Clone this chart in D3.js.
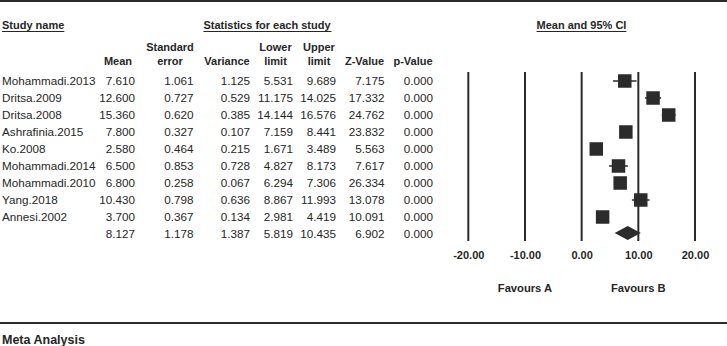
<!DOCTYPE html>
<html><head><meta charset="utf-8">
<script src="https://cdn.jsdelivr.net/npm/d3@7"></script>
<style>html,body{margin:0;padding:0;background:#fff;}svg{display:block;font-family:"Liberation Sans",Arial,sans-serif;}</style>
</head><body>
<svg id="c" width="727" height="346"></svg>
<script>
const studies = ["Mohammadi.2013","Dritsa.2009","Dritsa.2008","Ashrafinia.2015","Ko.2008","Mohammadi.2014","Mohammadi.2010","Yang.2018","Annesi.2002",""];
const means = [7.610,12.600,15.360,7.800,2.580,6.500,6.800,10.430,3.700,8.127];
const stdErrors = [1.061,0.727,0.620,0.327,0.464,0.853,0.258,0.798,0.367,1.178];
const variances = [1.125,0.529,0.385,0.107,0.215,0.728,0.067,0.636,0.134,1.387];
const lowerLimits = [5.531,11.175,14.144,7.159,1.671,4.827,6.294,8.867,2.981,5.819];
const upperLimits = [9.689,14.025,16.576,8.441,3.489,8.173,7.306,11.993,4.419,10.435];
const zValues = [7.175,17.332,24.762,23.832,5.563,7.617,26.334,13.078,10.091,6.902];
const pValues = [0.000,0.000,0.000,0.000,0.000,0.000,0.000,0.000,0.000,0.000];
const tickValues = [-20,-10,0,10,20];
const favourLabels = ["Favours A","Favours B"];

const svg = d3.select("#c");
const dark = "#2b2b2b", txt = "#262626";

// frame lines
svg.append("rect").attr("x",0).attr("y",0).attr("width",727).attr("height",2).attr("fill",dark);
svg.append("rect").attr("x",0).attr("y",322).attr("width",727).attr("height",2).attr("fill",dark);
svg.append("text").attr("x",2).attr("y",343.5).attr("font-size",12.5).attr("font-weight","bold").attr("fill",txt).text("Meta Analysis");

const x = d3.scaleLinear().domain([-20,20]).range([468.3,695]);
const y = d3.scaleBand().domain(d3.range(studies.length)).range([73,243]).padding(0);
const yc = i => y(i) + y.bandwidth()/2 - 0.5;

// Headers
function underlined(t, xx, yy, anchor){
  const el = svg.append("text").attr("x",xx).attr("y",yy).attr("font-size",11).attr("font-weight","bold")
    .attr("fill",txt).attr("text-anchor",anchor).text(t);
  const bb = el.node().getBBox();
  svg.append("line").attr("x1",bb.x).attr("x2",bb.x+bb.width).attr("y1",yy+2.5).attr("y2",yy+2.5)
    .attr("stroke",txt).attr("stroke-width",1);
}
underlined("Study name",2,29,"start");
underlined("Statistics for each study",267,29,"middle");
underlined("Mean and 95% CI",581.5,29,"middle");

const cols = [
  {h:["","Mean"], cx:118, rx:135, data:means},
  {h:["Standard","error"], cx:170, rx:193.5, data:stdErrors},
  {h:["","Variance"], cx:227, rx:250, data:variances},
  {h:["Lower","limit"], cx:275.5, rx:293, data:lowerLimits},
  {h:["Upper","limit"], cx:319, rx:336, data:upperLimits},
  {h:["","Z-Value"], cx:364.5, rx:384.5, data:zValues},
  {h:["","p-Value"], cx:413, rx:433, data:pValues}
];
cols.forEach(c=>{
  c.h.forEach((t,k)=>{
    if(!t) return;
    svg.append("text").attr("x",c.cx).attr("y",51+k*13.5).attr("font-size",11).attr("font-weight","bold")
      .attr("fill",txt).attr("text-anchor","middle").text(t);
  });
  svg.append("g").selectAll("text").data(c.data).join("text")
    .attr("x",c.rx).attr("y",(d,i)=>yc(i)+4.2).attr("font-size",11.7).attr("fill",txt)
    .attr("text-anchor","end").text(d=>d3.format(".3f")(d));
});
svg.append("g").selectAll("text").data(studies).join("text")
  .attr("x",2).attr("y",(d,i)=>yc(i)+4.2).attr("font-size",11.7).attr("fill",txt).text(d=>d);

// Vertical grid/tick lines
svg.append("g").selectAll("line").data(tickValues).join("line")
  .attr("x1",d=>x(d)).attr("x2",d=>x(d)).attr("y1",72).attr("y2",241)
  .attr("stroke",dark).attr("stroke-width",2);
// axis labels
const fmt = d => d3.format(".2f")(d).replace("\u2212","-");
const axis = d3.axisBottom(x).tickValues(tickValues).tickFormat(fmt).tickSize(0).tickPadding(0);
const ag = svg.append("g").attr("transform","translate(0,251)").call(axis);
ag.select(".domain").remove();
ag.selectAll("text").attr("font-size",11).attr("font-weight","bold").attr("fill",txt)
  .attr("font-family","Liberation Sans, Arial, sans-serif");

svg.append("g").selectAll("text").data(favourLabels).join("text")
  .attr("x",(d,i)=>x(i===0?-10:10)).attr("y",291.5).attr("text-anchor","middle")
  .attr("font-size",11.2).attr("font-weight","bold").attr("fill",txt).text(d=>d);

// Study markers
const n = studies.length - 1;
const g = svg.append("g");
for(let i=0;i<n;i++){
  g.append("line").attr("x1",x(lowerLimits[i])).attr("x2",x(upperLimits[i]))
    .attr("y1",yc(i)).attr("y2",yc(i)).attr("stroke",dark).attr("stroke-width",1.5);
  const s = 13.5;
  g.append("rect").attr("x",x(means[i])-s/2).attr("y",yc(i)-s/2).attr("width",s).attr("height",s).attr("fill",dark);
}
// summary diamond
const si = n, cy = yc(si)-1;
g.append("path").attr("d",`M${x(lowerLimits[si])},${cy}L${x(means[si])},${cy-7}L${x(upperLimits[si])},${cy}L${x(means[si])},${cy+7}Z`)
  .attr("fill",dark);
</script>
</body></html>
